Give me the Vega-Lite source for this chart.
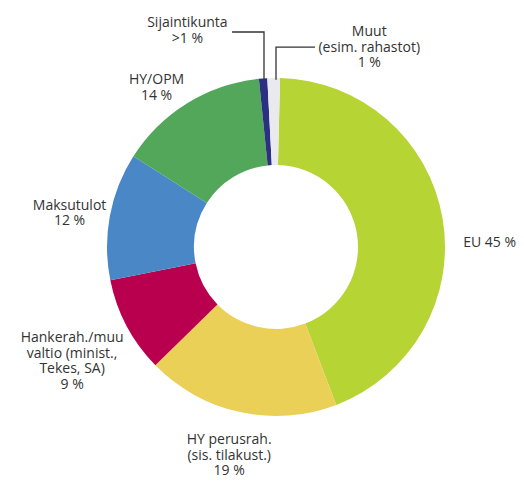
{
  "$schema": "https://vega.github.io/schema/vega-lite/v6.json",
  "width": 496,
  "height": 472,
  "autosize": "none",
  "padding": {"left": 28, "top": 11, "right": 0, "bottom": 0},
  "background": "white",
  "config": {"view": {"stroke": null}},
  "datasets": {
    "shares": [
      {"o": 1, "cat": "EU", "value": 43.9, "label": "EU 45 %"},
      {"o": 2, "cat": "HY perusrah.", "value": 18.5, "label": "HY perusrah.\n(sis. tilakust.)\n19 %"},
      {"o": 3, "cat": "Hankerah./muu valtio", "value": 9.2, "label": "Hankerah./muu\nvaltio (minist.,\nTekes, SA)\n9 %"},
      {"o": 4, "cat": "Maksutulot", "value": 12.2, "label": "Maksutulot\n12 %"},
      {"o": 5, "cat": "HY/OPM", "value": 14.4, "label": "HY/OPM\n14 %"},
      {"o": 6, "cat": "Sijaintikunta", "value": 0.8, "label": "Sijaintikunta\n>1 %"},
      {"o": 7, "cat": "Muut", "value": 1.2, "label": "Muut\n(esim. rahastot)\n1 %"}
    ],
    "leaders": [
      {"seg": "Sijaintikunta", "i": 1, "x": -0.26, "y": 1.272},
      {"seg": "Sijaintikunta", "i": 2, "x": -0.071, "y": 1.272},
      {"seg": "Sijaintikunta", "i": 3, "x": -0.071, "y": 0.99},
      {"seg": "Muut", "i": 1, "x": 0.231, "y": 1.183},
      {"seg": "Muut", "i": 2, "x": 0.0, "y": 1.183},
      {"seg": "Muut", "i": 3, "x": 0.0, "y": 0.99}
    ]
  },
  "layer": [
    {
      "data": {"name": "shares"},
      "mark": {"type": "arc", "outerRadius": 169, "innerRadius": 82},
      "encoding": {
        "theta": {"field": "value", "type": "quantitative", "stack": true, "scale": {"range": [0.024, 6.307]}},
        "order": {"field": "o", "type": "quantitative"},
        "color": {
          "field": "cat", "type": "nominal", "legend": null,
          "scale": {
            "domain": ["EU", "HY perusrah.", "Hankerah./muu valtio", "Maksutulot", "HY/OPM", "Sijaintikunta", "Muut"],
            "range": ["#b6d433", "#ebd058", "#b8004e", "#4a87c7", "#52a75b", "#2b3180", "#e9e9ee"]
          }
        }
      }
    },
    {
      "data": {"name": "shares"},
      "mark": {"type": "text", "radius": 190, "dx": 0, "dy": 28, "align": "left", "baseline": "middle", "lineBreak": "\n", "lineHeight": 15.5, "font": "Open Sans", "fontSize": 14, "color": "#333333"},
      "encoding": {
        "theta": {"field": "value", "type": "quantitative", "stack": true, "scale": {"range": [0.024, 6.307]}},
        "order": {"field": "o", "type": "quantitative"},
        "text": {"condition": {"test": "datum.cat === 'EU'", "field": "label"}, "value": ""}
      }
    },
    {
      "data": {"name": "shares"},
      "mark": {"type": "text", "radius": 210, "dx": -2, "dy": -12, "align": "center", "baseline": "middle", "lineBreak": "\n", "lineHeight": 15.5, "font": "Open Sans", "fontSize": 14, "color": "#333333"},
      "encoding": {
        "theta": {"field": "value", "type": "quantitative", "stack": true, "scale": {"range": [0.024, 6.307]}},
        "order": {"field": "o", "type": "quantitative"},
        "text": {"condition": {"test": "datum.cat === 'HY perusrah.'", "field": "label"}, "value": ""}
      }
    },
    {
      "data": {"name": "shares"},
      "mark": {"type": "text", "radius": 220, "dx": -9.5, "dy": -11.5, "align": "center", "baseline": "middle", "lineBreak": "\n", "lineHeight": 15.5, "font": "Open Sans", "fontSize": 14, "color": "#333333"},
      "encoding": {
        "theta": {"field": "value", "type": "quantitative", "stack": true, "scale": {"range": [0.024, 6.307]}},
        "order": {"field": "o", "type": "quantitative"},
        "text": {"condition": {"test": "datum.cat === 'Hankerah./muu valtio'", "field": "label"}, "value": ""}
      }
    },
    {
      "data": {"name": "shares"},
      "mark": {"type": "text", "radius": 210, "dx": 0, "dy": -3, "align": "center", "baseline": "middle", "lineBreak": "\n", "lineHeight": 15.5, "font": "Open Sans", "fontSize": 14, "color": "#333333"},
      "encoding": {
        "theta": {"field": "value", "type": "quantitative", "stack": true, "scale": {"range": [0.024, 6.307]}},
        "order": {"field": "o", "type": "quantitative"},
        "text": {"condition": {"test": "datum.cat === 'Maksutulot'", "field": "label"}, "value": ""}
      }
    },
    {
      "data": {"name": "shares"},
      "mark": {"type": "text", "radius": 195, "dx": -17, "dy": -1, "align": "center", "baseline": "middle", "lineBreak": "\n", "lineHeight": 15.5, "font": "Open Sans", "fontSize": 14, "color": "#333333"},
      "encoding": {
        "theta": {"field": "value", "type": "quantitative", "stack": true, "scale": {"range": [0.024, 6.307]}},
        "order": {"field": "o", "type": "quantitative"},
        "text": {"condition": {"test": "datum.cat === 'HY/OPM'", "field": "label"}, "value": ""}
      }
    },
    {
      "data": {"name": "shares"},
      "mark": {"type": "text", "radius": 217, "dx": -72, "dy": -7.5, "align": "center", "baseline": "middle", "lineBreak": "\n", "lineHeight": 15.5, "font": "Open Sans", "fontSize": 14, "color": "#333333"},
      "encoding": {
        "theta": {"field": "value", "type": "quantitative", "stack": true, "scale": {"range": [0.024, 6.307]}},
        "order": {"field": "o", "type": "quantitative"},
        "text": {"condition": {"test": "datum.cat === 'Sijaintikunta'", "field": "label"}, "value": ""}
      }
    },
    {
      "data": {"name": "shares"},
      "mark": {"type": "text", "radius": 200, "dx": 96, "dy": -15, "align": "center", "baseline": "middle", "lineBreak": "\n", "lineHeight": 15.5, "font": "Open Sans", "fontSize": 14, "color": "#333333"},
      "encoding": {
        "theta": {"field": "value", "type": "quantitative", "stack": true, "scale": {"range": [0.024, 6.307]}},
        "order": {"field": "o", "type": "quantitative"},
        "text": {"condition": {"test": "datum.cat === 'Muut'", "field": "label"}, "value": ""}
      }
    },
    {
      "data": {"name": "leaders"},
      "mark": {"type": "line", "color": "#333333", "strokeWidth": 1.3},
      "encoding": {
        "x": {"field": "x", "type": "quantitative", "axis": null, "scale": {"domain": [-1.4675, 1.4675], "nice": false, "zero": false}},
        "y": {"field": "y", "type": "quantitative", "axis": null, "scale": {"domain": [-1.3964, 1.3964], "nice": false, "zero": false}},
        "detail": {"field": "seg", "type": "nominal"},
        "order": {"field": "i", "type": "quantitative"}
      }
    }
  ]
}
